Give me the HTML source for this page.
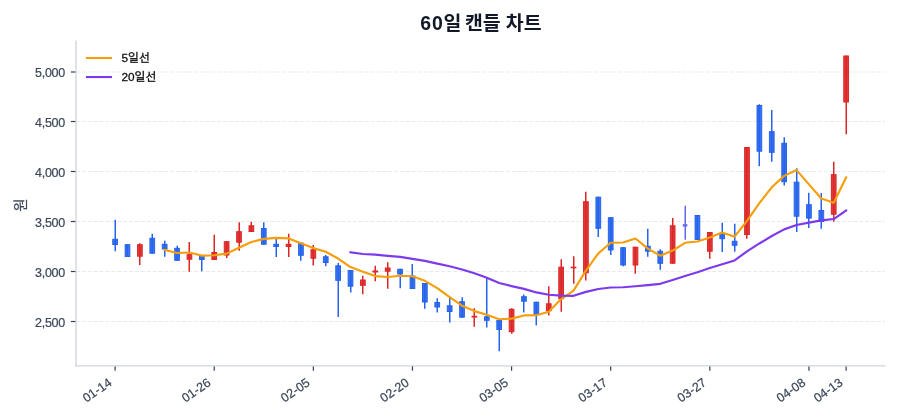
<!DOCTYPE html>
<html lang="ko"><head><meta charset="utf-8"><title>60일 캔들 차트</title>
<style>
html,body{margin:0;padding:0;background:#fff;}
body{width:900px;height:420px;overflow:hidden;}
svg{display:block;}
text{font-family:"Liberation Sans","Noto Sans CJK KR",sans-serif;}
.tk{font-size:12.5px;fill:#3b4759;stroke:#3b4759;stroke-width:.2px;}
.lg{font-size:11.8px;fill:#111;stroke:#111;stroke-width:.3px;}
.ti{font-size:19.44px;font-weight:bold;fill:#111827;}
</style></head><body>
<svg width="900" height="420" viewBox="0 0 900 420">
<rect x="0" y="0" width="900" height="420" fill="#ffffff"/>
<g stroke="#e5e7eb" stroke-width="1.1" stroke-dasharray="4.111 1.778" stroke-opacity="0.88" fill="none">
<line x1="76.0" y1="321.50" x2="885.0" y2="321.50"/>
<line x1="76.0" y1="271.50" x2="885.0" y2="271.50"/>
<line x1="76.0" y1="221.50" x2="885.0" y2="221.50"/>
<line x1="76.0" y1="171.50" x2="885.0" y2="171.50"/>
<line x1="76.0" y1="121.50" x2="885.0" y2="121.50"/>
<line x1="76.0" y1="72.00" x2="885.0" y2="72.00"/>
</g>
<line x1="115.25" y1="219.70" x2="115.25" y2="251.30" stroke="#2563eb" stroke-width="1.5"/>
<rect x="112.75" y="239.30" width="4.70" height="5.20" fill="#2563eb" fill-opacity="0.9" stroke="#2563eb" stroke-width="1"/>
<line x1="127.25" y1="244.20" x2="127.25" y2="257.00" stroke="#2563eb" stroke-width="1.5"/>
<rect x="125.14" y="244.70" width="4.70" height="11.80" fill="#2563eb" fill-opacity="0.9" stroke="#2563eb" stroke-width="1"/>
<line x1="139.75" y1="243.30" x2="139.75" y2="265.00" stroke="#dc2626" stroke-width="1.5"/>
<rect x="137.53" y="244.70" width="4.70" height="11.50" fill="#dc2626" fill-opacity="0.9" stroke="#dc2626" stroke-width="1"/>
<line x1="152.25" y1="233.70" x2="152.25" y2="253.70" stroke="#2563eb" stroke-width="1.5"/>
<rect x="149.92" y="238.30" width="4.70" height="14.90" fill="#2563eb" fill-opacity="0.9" stroke="#2563eb" stroke-width="1"/>
<line x1="164.75" y1="240.80" x2="164.75" y2="256.70" stroke="#2563eb" stroke-width="1.5"/>
<rect x="162.31" y="244.30" width="4.70" height="4.70" fill="#2563eb" fill-opacity="0.9" stroke="#2563eb" stroke-width="1"/>
<line x1="177.25" y1="245.80" x2="177.25" y2="260.80" stroke="#2563eb" stroke-width="1.5"/>
<rect x="174.70" y="248.30" width="4.70" height="12.00" fill="#2563eb" fill-opacity="0.9" stroke="#2563eb" stroke-width="1"/>
<line x1="189.25" y1="242.00" x2="189.25" y2="271.70" stroke="#dc2626" stroke-width="1.5"/>
<rect x="187.09" y="254.70" width="4.70" height="4.50" fill="#dc2626" fill-opacity="0.9" stroke="#dc2626" stroke-width="1"/>
<line x1="201.75" y1="255.00" x2="201.75" y2="271.20" stroke="#2563eb" stroke-width="1.5"/>
<rect x="199.48" y="255.50" width="4.70" height="4.00" fill="#2563eb" fill-opacity="0.9" stroke="#2563eb" stroke-width="1"/>
<line x1="214.25" y1="234.70" x2="214.25" y2="260.00" stroke="#dc2626" stroke-width="1.5"/>
<rect x="211.87" y="252.50" width="4.70" height="7.00" fill="#dc2626" fill-opacity="0.9" stroke="#dc2626" stroke-width="1"/>
<line x1="226.75" y1="241.20" x2="226.75" y2="258.00" stroke="#dc2626" stroke-width="1.5"/>
<rect x="224.26" y="241.70" width="4.70" height="13.30" fill="#dc2626" fill-opacity="0.9" stroke="#dc2626" stroke-width="1"/>
<line x1="239.25" y1="222.20" x2="239.25" y2="250.80" stroke="#dc2626" stroke-width="1.5"/>
<rect x="236.65" y="231.70" width="4.70" height="10.50" fill="#dc2626" fill-opacity="0.9" stroke="#dc2626" stroke-width="1"/>
<line x1="251.25" y1="221.70" x2="251.25" y2="232.00" stroke="#dc2626" stroke-width="1.5"/>
<rect x="249.04" y="225.80" width="4.70" height="5.70" fill="#dc2626" fill-opacity="0.9" stroke="#dc2626" stroke-width="1"/>
<line x1="263.75" y1="222.20" x2="263.75" y2="244.70" stroke="#2563eb" stroke-width="1.5"/>
<rect x="261.43" y="228.50" width="4.70" height="15.70" fill="#2563eb" fill-opacity="0.9" stroke="#2563eb" stroke-width="1"/>
<line x1="276.25" y1="238.80" x2="276.25" y2="257.00" stroke="#2563eb" stroke-width="1.5"/>
<rect x="273.82" y="244.30" width="4.70" height="2.20" fill="#2563eb" fill-opacity="0.9" stroke="#2563eb" stroke-width="1"/>
<line x1="288.75" y1="233.70" x2="288.75" y2="257.00" stroke="#dc2626" stroke-width="1.5"/>
<rect x="286.21" y="244.30" width="4.70" height="2.20" fill="#dc2626" fill-opacity="0.9" stroke="#dc2626" stroke-width="1"/>
<line x1="300.75" y1="242.30" x2="300.75" y2="260.80" stroke="#2563eb" stroke-width="1.5"/>
<rect x="298.60" y="243.20" width="4.70" height="12.10" fill="#2563eb" fill-opacity="0.9" stroke="#2563eb" stroke-width="1"/>
<line x1="313.25" y1="245.00" x2="313.25" y2="265.50" stroke="#dc2626" stroke-width="1.5"/>
<rect x="310.99" y="249.70" width="4.70" height="8.50" fill="#dc2626" fill-opacity="0.9" stroke="#dc2626" stroke-width="1"/>
<line x1="325.75" y1="255.00" x2="325.75" y2="266.30" stroke="#2563eb" stroke-width="1.5"/>
<rect x="323.38" y="256.80" width="4.70" height="5.70" fill="#2563eb" fill-opacity="0.9" stroke="#2563eb" stroke-width="1"/>
<line x1="338.25" y1="263.00" x2="338.25" y2="317.00" stroke="#2563eb" stroke-width="1.5"/>
<rect x="335.77" y="265.80" width="4.70" height="14.50" fill="#2563eb" fill-opacity="0.9" stroke="#2563eb" stroke-width="1"/>
<line x1="350.75" y1="270.00" x2="350.75" y2="292.50" stroke="#2563eb" stroke-width="1.5"/>
<rect x="348.16" y="270.50" width="4.70" height="15.70" fill="#2563eb" fill-opacity="0.9" stroke="#2563eb" stroke-width="1"/>
<line x1="362.75" y1="275.80" x2="362.75" y2="294.20" stroke="#dc2626" stroke-width="1.5"/>
<rect x="360.55" y="280.00" width="4.70" height="5.30" fill="#dc2626" fill-opacity="0.9" stroke="#dc2626" stroke-width="1"/>
<line x1="375.25" y1="265.80" x2="375.25" y2="281.20" stroke="#dc2626" stroke-width="1.5"/>
<rect x="372.94" y="271.00" width="4.70" height="1.00" fill="#dc2626" fill-opacity="0.9" stroke="#dc2626" stroke-width="1"/>
<line x1="387.75" y1="262.20" x2="387.75" y2="288.80" stroke="#dc2626" stroke-width="1.5"/>
<rect x="385.33" y="268.00" width="4.70" height="3.20" fill="#dc2626" fill-opacity="0.9" stroke="#dc2626" stroke-width="1"/>
<line x1="400.25" y1="268.80" x2="400.25" y2="288.30" stroke="#2563eb" stroke-width="1.5"/>
<rect x="397.72" y="269.30" width="4.70" height="4.70" fill="#2563eb" fill-opacity="0.9" stroke="#2563eb" stroke-width="1"/>
<line x1="412.25" y1="264.00" x2="412.25" y2="289.00" stroke="#2563eb" stroke-width="1.5"/>
<rect x="410.11" y="276.00" width="4.70" height="12.50" fill="#2563eb" fill-opacity="0.9" stroke="#2563eb" stroke-width="1"/>
<line x1="424.75" y1="283.00" x2="424.75" y2="308.70" stroke="#2563eb" stroke-width="1.5"/>
<rect x="422.50" y="283.50" width="4.70" height="18.50" fill="#2563eb" fill-opacity="0.9" stroke="#2563eb" stroke-width="1"/>
<line x1="437.25" y1="298.30" x2="437.25" y2="312.50" stroke="#2563eb" stroke-width="1.5"/>
<rect x="434.89" y="302.50" width="4.70" height="4.50" fill="#2563eb" fill-opacity="0.9" stroke="#2563eb" stroke-width="1"/>
<line x1="449.75" y1="297.50" x2="449.75" y2="322.50" stroke="#2563eb" stroke-width="1.5"/>
<rect x="447.28" y="305.80" width="4.70" height="5.70" fill="#2563eb" fill-opacity="0.9" stroke="#2563eb" stroke-width="1"/>
<line x1="462.25" y1="297.30" x2="462.25" y2="317.70" stroke="#2563eb" stroke-width="1.5"/>
<rect x="459.67" y="301.70" width="4.70" height="15.50" fill="#2563eb" fill-opacity="0.9" stroke="#2563eb" stroke-width="1"/>
<line x1="474.25" y1="308.30" x2="474.25" y2="326.70" stroke="#dc2626" stroke-width="1.5"/>
<rect x="472.06" y="316.30" width="4.70" height="0.70" fill="#dc2626" fill-opacity="0.9" stroke="#dc2626" stroke-width="1"/>
<line x1="486.75" y1="278.30" x2="486.75" y2="327.50" stroke="#2563eb" stroke-width="1.5"/>
<rect x="484.45" y="316.80" width="4.70" height="3.50" fill="#2563eb" fill-opacity="0.9" stroke="#2563eb" stroke-width="1"/>
<line x1="499.25" y1="320.00" x2="499.25" y2="351.30" stroke="#2563eb" stroke-width="1.5"/>
<rect x="496.84" y="320.50" width="4.70" height="9.00" fill="#2563eb" fill-opacity="0.9" stroke="#2563eb" stroke-width="1"/>
<line x1="511.75" y1="308.30" x2="511.75" y2="333.70" stroke="#dc2626" stroke-width="1.5"/>
<rect x="509.23" y="309.30" width="4.70" height="22.40" fill="#dc2626" fill-opacity="0.9" stroke="#dc2626" stroke-width="1"/>
<line x1="523.75" y1="294.50" x2="523.75" y2="312.50" stroke="#2563eb" stroke-width="1.5"/>
<rect x="521.62" y="296.70" width="4.70" height="4.50" fill="#2563eb" fill-opacity="0.9" stroke="#2563eb" stroke-width="1"/>
<line x1="536.25" y1="301.70" x2="536.25" y2="325.50" stroke="#2563eb" stroke-width="1.5"/>
<rect x="534.01" y="302.20" width="4.70" height="12.30" fill="#2563eb" fill-opacity="0.9" stroke="#2563eb" stroke-width="1"/>
<line x1="548.75" y1="286.30" x2="548.75" y2="315.50" stroke="#dc2626" stroke-width="1.5"/>
<rect x="546.40" y="303.80" width="4.70" height="6.90" fill="#dc2626" fill-opacity="0.9" stroke="#dc2626" stroke-width="1"/>
<line x1="561.25" y1="259.20" x2="561.25" y2="311.70" stroke="#dc2626" stroke-width="1.5"/>
<rect x="558.79" y="267.20" width="4.70" height="31.50" fill="#dc2626" fill-opacity="0.9" stroke="#dc2626" stroke-width="1"/>
<line x1="573.75" y1="256.20" x2="573.75" y2="283.70" stroke="#dc2626" stroke-width="1.5"/>
<rect x="571.18" y="267.20" width="4.70" height="0.60" fill="#dc2626" fill-opacity="0.9" stroke="#dc2626" stroke-width="1"/>
<line x1="585.75" y1="191.70" x2="585.75" y2="280.50" stroke="#dc2626" stroke-width="1.5"/>
<rect x="583.57" y="201.70" width="4.70" height="71.10" fill="#dc2626" fill-opacity="0.9" stroke="#dc2626" stroke-width="1"/>
<line x1="598.25" y1="196.70" x2="598.25" y2="237.00" stroke="#2563eb" stroke-width="1.5"/>
<rect x="595.96" y="197.20" width="4.70" height="31.10" fill="#2563eb" fill-opacity="0.9" stroke="#2563eb" stroke-width="1"/>
<line x1="610.75" y1="217.20" x2="610.75" y2="255.00" stroke="#2563eb" stroke-width="1.5"/>
<rect x="608.35" y="217.70" width="4.70" height="32.30" fill="#2563eb" fill-opacity="0.9" stroke="#2563eb" stroke-width="1"/>
<line x1="623.25" y1="247.20" x2="623.25" y2="266.30" stroke="#2563eb" stroke-width="1.5"/>
<rect x="620.74" y="247.70" width="4.70" height="17.30" fill="#2563eb" fill-opacity="0.9" stroke="#2563eb" stroke-width="1"/>
<line x1="635.25" y1="246.70" x2="635.25" y2="273.80" stroke="#dc2626" stroke-width="1.5"/>
<rect x="633.13" y="247.20" width="4.70" height="17.80" fill="#dc2626" fill-opacity="0.9" stroke="#dc2626" stroke-width="1"/>
<line x1="647.75" y1="228.80" x2="647.75" y2="256.70" stroke="#2563eb" stroke-width="1.5"/>
<rect x="645.52" y="246.30" width="4.70" height="4.90" fill="#2563eb" fill-opacity="0.9" stroke="#2563eb" stroke-width="1"/>
<line x1="660.25" y1="249.20" x2="660.25" y2="269.70" stroke="#2563eb" stroke-width="1.5"/>
<rect x="657.91" y="251.30" width="4.70" height="12.00" fill="#2563eb" fill-opacity="0.9" stroke="#2563eb" stroke-width="1"/>
<line x1="672.75" y1="218.00" x2="672.75" y2="263.70" stroke="#dc2626" stroke-width="1.5"/>
<rect x="670.30" y="225.80" width="4.70" height="37.40" fill="#dc2626" fill-opacity="0.9" stroke="#dc2626" stroke-width="1"/>
<line x1="685.25" y1="205.80" x2="685.25" y2="239.70" stroke="#6366f1" stroke-width="1.5"/>
<rect x="683.24" y="224.70" width="3.60" height="1.30" fill="#6366f1" fill-opacity="0.9" stroke="#6366f1" stroke-width="1"/>
<line x1="697.25" y1="215.00" x2="697.25" y2="240.00" stroke="#2563eb" stroke-width="1.5"/>
<rect x="695.08" y="215.50" width="4.70" height="24.00" fill="#2563eb" fill-opacity="0.9" stroke="#2563eb" stroke-width="1"/>
<line x1="709.75" y1="232.00" x2="709.75" y2="258.70" stroke="#dc2626" stroke-width="1.5"/>
<rect x="707.47" y="232.50" width="4.70" height="18.70" fill="#dc2626" fill-opacity="0.9" stroke="#dc2626" stroke-width="1"/>
<line x1="722.25" y1="222.80" x2="722.25" y2="252.00" stroke="#2563eb" stroke-width="1.5"/>
<rect x="719.86" y="234.70" width="4.70" height="4.00" fill="#2563eb" fill-opacity="0.9" stroke="#2563eb" stroke-width="1"/>
<line x1="734.75" y1="223.80" x2="734.75" y2="251.70" stroke="#2563eb" stroke-width="1.5"/>
<rect x="732.25" y="241.30" width="4.70" height="4.00" fill="#2563eb" fill-opacity="0.9" stroke="#2563eb" stroke-width="1"/>
<line x1="746.75" y1="147.00" x2="746.75" y2="238.80" stroke="#dc2626" stroke-width="1.5"/>
<rect x="744.64" y="147.50" width="4.70" height="87.00" fill="#dc2626" fill-opacity="0.9" stroke="#dc2626" stroke-width="1"/>
<line x1="759.25" y1="104.20" x2="759.25" y2="166.30" stroke="#2563eb" stroke-width="1.5"/>
<rect x="757.03" y="105.50" width="4.70" height="45.70" fill="#2563eb" fill-opacity="0.9" stroke="#2563eb" stroke-width="1"/>
<line x1="771.75" y1="110.00" x2="771.75" y2="161.70" stroke="#2563eb" stroke-width="1.5"/>
<rect x="769.42" y="131.70" width="4.70" height="20.60" fill="#2563eb" fill-opacity="0.9" stroke="#2563eb" stroke-width="1"/>
<line x1="784.25" y1="137.20" x2="784.25" y2="185.50" stroke="#2563eb" stroke-width="1.5"/>
<rect x="781.81" y="143.30" width="4.70" height="38.40" fill="#2563eb" fill-opacity="0.9" stroke="#2563eb" stroke-width="1"/>
<line x1="796.75" y1="168.30" x2="796.75" y2="232.00" stroke="#2563eb" stroke-width="1.5"/>
<rect x="794.20" y="182.20" width="4.70" height="34.00" fill="#2563eb" fill-opacity="0.9" stroke="#2563eb" stroke-width="1"/>
<line x1="808.75" y1="192.80" x2="808.75" y2="228.00" stroke="#2563eb" stroke-width="1.5"/>
<rect x="806.59" y="204.70" width="4.70" height="13.40" fill="#2563eb" fill-opacity="0.9" stroke="#2563eb" stroke-width="1"/>
<line x1="821.25" y1="193.00" x2="821.25" y2="228.70" stroke="#2563eb" stroke-width="1.5"/>
<rect x="818.98" y="210.50" width="4.70" height="11.00" fill="#2563eb" fill-opacity="0.9" stroke="#2563eb" stroke-width="1"/>
<line x1="833.75" y1="161.70" x2="833.75" y2="221.70" stroke="#dc2626" stroke-width="1.5"/>
<rect x="831.37" y="174.70" width="4.70" height="39.50" fill="#dc2626" fill-opacity="0.9" stroke="#dc2626" stroke-width="1"/>
<line x1="846.25" y1="55.50" x2="846.25" y2="134.20" stroke="#dc2626" stroke-width="1.5"/>
<rect x="843.76" y="56.00" width="4.70" height="46.00" fill="#dc2626" fill-opacity="0.9" stroke="#dc2626" stroke-width="1"/>
<polyline points="164.66,249.88 177.05,253.04 189.44,252.48 201.83,255.64 214.22,255.30 226.61,253.64 239.00,247.72 251.39,241.94 263.78,238.88 276.17,237.88 288.56,238.40 300.95,243.32 313.34,248.10 325.73,251.76 338.12,258.52 350.51,267.10 362.90,271.84 375.29,276.10 387.68,277.00 400.07,275.74 412.46,276.20 424.85,280.80 437.24,288.20 449.63,297.10 462.02,305.74 474.41,311.10 486.80,314.76 499.19,319.26 511.58,318.62 523.97,315.42 536.36,315.26 548.75,311.76 561.14,299.10 573.53,290.68 585.92,270.58 598.31,253.34 610.70,242.78 623.09,242.54 635.48,238.54 647.87,248.64 660.26,255.64 672.65,250.60 685.04,242.80 697.43,241.46 709.82,237.52 722.21,232.60 734.60,236.70 746.99,220.80 759.38,203.14 771.77,187.30 784.16,175.90 796.55,170.08 808.94,184.40 821.33,198.46 833.72,202.74 846.11,177.40" fill="none" stroke="#f59e0b" stroke-width="2.15" stroke-linejoin="round" stroke-linecap="square"/>
<polyline points="350.51,252.26 362.90,253.98 375.29,254.66 387.68,255.82 400.07,256.86 412.46,258.83 424.85,260.92 437.24,263.58 449.63,266.19 462.02,269.47 474.41,273.20 486.80,277.68 499.19,282.92 511.58,286.12 523.97,288.86 536.36,292.42 548.75,294.79 561.14,295.67 573.53,295.85 585.92,291.87 598.31,288.98 610.70,287.52 623.09,287.27 635.48,286.24 647.87,285.09 660.26,283.83 672.65,279.98 685.04,275.93 697.43,272.32 709.82,268.04 722.21,264.21 734.60,260.46 746.99,251.31 759.38,243.46 771.77,236.01 784.16,229.37 796.55,225.04 808.94,222.63 821.33,220.40 833.72,219.05 846.11,210.38" fill="none" stroke="#7c3aed" stroke-width="2.15" stroke-linejoin="round" stroke-linecap="square"/>
<g stroke="#d1d5db" stroke-width="1.39" fill="none">
<line x1="76.00" y1="40.50" x2="76.00" y2="366.40"/>
<line x1="75.45" y1="365.85" x2="885.60" y2="365.85"/>
</g>
<g stroke="#334155" stroke-width="1.2">
<line x1="70.90" y1="321.50" x2="75.40" y2="321.50"/>
<line x1="70.90" y1="271.50" x2="75.40" y2="271.50"/>
<line x1="70.90" y1="221.50" x2="75.40" y2="221.50"/>
<line x1="70.90" y1="171.50" x2="75.40" y2="171.50"/>
<line x1="70.90" y1="121.50" x2="75.40" y2="121.50"/>
<line x1="70.90" y1="72.00" x2="75.40" y2="72.00"/>
<line x1="115.10" y1="366.40" x2="115.10" y2="370.75"/>
<line x1="214.22" y1="366.40" x2="214.22" y2="370.75"/>
<line x1="313.34" y1="366.40" x2="313.34" y2="370.75"/>
<line x1="412.46" y1="366.40" x2="412.46" y2="370.75"/>
<line x1="511.58" y1="366.40" x2="511.58" y2="370.75"/>
<line x1="610.70" y1="366.40" x2="610.70" y2="370.75"/>
<line x1="709.82" y1="366.40" x2="709.82" y2="370.75"/>
<line x1="808.94" y1="366.40" x2="808.94" y2="370.75"/>
<line x1="846.11" y1="366.40" x2="846.11" y2="370.75"/>
</g>
<text class="tk" x="64.90" y="327.05" text-anchor="end" letter-spacing="-0.3">2,500</text>
<text class="tk" x="64.90" y="277.05" text-anchor="end" letter-spacing="-0.3">3,000</text>
<text class="tk" x="64.90" y="227.05" text-anchor="end" letter-spacing="-0.3">3,500</text>
<text class="tk" x="64.90" y="177.05" text-anchor="end" letter-spacing="-0.3">4,000</text>
<text class="tk" x="64.90" y="127.05" text-anchor="end" letter-spacing="-0.3">4,500</text>
<text class="tk" x="64.90" y="77.05" text-anchor="end" letter-spacing="-0.3">5,000</text>
<text class="tk" text-anchor="end" transform="translate(112.6,384.5) rotate(-35)">01-14</text>
<text class="tk" text-anchor="end" transform="translate(211.7,384.5) rotate(-35)">01-26</text>
<text class="tk" text-anchor="end" transform="translate(310.8,384.5) rotate(-35)">02-05</text>
<text class="tk" text-anchor="end" transform="translate(410.0,384.5) rotate(-35)">02-20</text>
<text class="tk" text-anchor="end" transform="translate(509.1,384.5) rotate(-35)">03-05</text>
<text class="tk" text-anchor="end" transform="translate(608.2,384.5) rotate(-35)">03-17</text>
<text class="tk" text-anchor="end" transform="translate(707.3,384.5) rotate(-35)">03-27</text>
<text class="tk" text-anchor="end" transform="translate(806.4,384.5) rotate(-35)">04-08</text>
<text class="tk" text-anchor="end" transform="translate(843.6,384.5) rotate(-35)">04-13</text>
<text class="tk" style="font-size:14.6px" text-anchor="middle" transform="translate(25.9,205.0) rotate(-90)">원</text>
<text class="ti" x="420.2" y="29.9"><tspan letter-spacing="0.9">60</tspan><tspan dx="-0.2">일</tspan> <tspan dx="-1.8">캔들</tspan> <tspan dx="-0.3">차트</tspan></text>
<line x1="85.9" y1="58.0" x2="112" y2="58.0" stroke="#f59e0b" stroke-width="2.1"/>
<line x1="85.9" y1="77.05" x2="112" y2="77.05" stroke="#7c3aed" stroke-width="2.1"/>
<text class="lg" x="121.5" y="61.9">5일선</text>
<text class="lg" x="121.5" y="81.1">20일선</text>
</svg></body></html>
